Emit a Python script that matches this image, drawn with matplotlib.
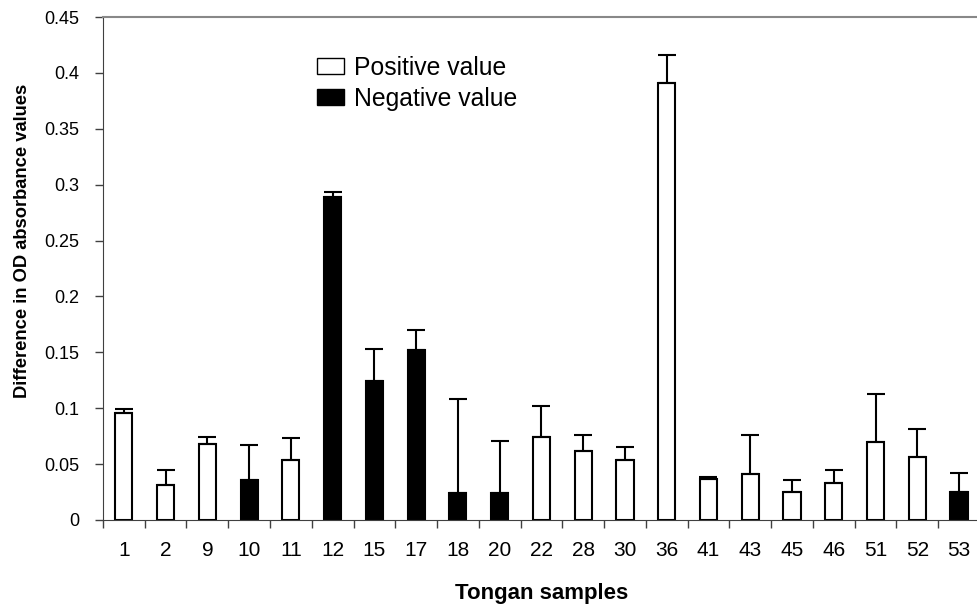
import matplotlib.pyplot as plt
from matplotlib.patches import Patch

plt.rcParams['font.family'] = ['Liberation Sans', 'DejaVu Sans']

samples = ['1', '2', '9', '10', '11', '12', '15', '17', '18', '20', '22',
           '28', '30', '36', '41', '43', '45', '46', '51', '52', '53']
values = [0.096, 0.031, 0.068, 0.036, 0.054, 0.289, 0.124, 0.152, 0.024, 0.024, 0.074,
          0.062, 0.054, 0.391, 0.037, 0.041, 0.025, 0.033, 0.070, 0.056, 0.025]
errors = [0.003, 0.014, 0.006, 0.031, 0.019, 0.004, 0.029, 0.018, 0.084, 0.047, 0.028,
          0.014, 0.011, 0.025, 0.0015, 0.035, 0.0105, 0.012, 0.043, 0.025, 0.017]
# True = negative value (black bar)
negative = [False, False, False, True, False, True, True, True, True, True, False,
            False, False, False, False, False, False, False, False, False, True]

fig = plt.figure(figsize=(9.77, 6.05), dpi=100)
ax = fig.add_axes([0.1054, 0.1405, 0.8976, 0.8314])

x = range(len(samples))
colors = ['black' if n else 'white' for n in negative]
ax.bar(x, values, width=0.41, color=colors, edgecolor='black', linewidth=1.5, zorder=2)
ax.errorbar(x, values, yerr=[[0] * len(errors), errors], fmt='none', ecolor='black',
            elinewidth=1.5, capsize=6.5, capthick=1.5, zorder=3)

ax.set_xlim(-0.5, len(samples) - 0.5)
ax.set_ylim(0, 0.45)
ax.set_yticks([i * 0.05 for i in range(10)])
ax.set_yticklabels(['0', '0.05', '0.1', '0.15', '0.2', '0.25', '0.3', '0.35', '0.4', '0.45'])
ax.set_xticks(list(x))
ax.set_xticklabels(samples)
ax.set_xticks([i - 0.5 for i in range(len(samples) + 1)], minor=True)
ax.tick_params(axis='x', which='major', length=0, pad=15, labelsize=15)
ax.tick_params(axis='x', which='minor', length=6, width=1, color='#404040')
ax.tick_params(axis='y', length=6, width=1, color='#404040', labelsize=13, pad=11)

ax.spines['right'].set_visible(False)
ax.spines['top'].set_color('#888888')
ax.spines['top'].set_linewidth(1.5)
ax.spines['left'].set_color('#404040')
ax.spines['bottom'].set_color('#404040')

ax.set_xlabel('Tongan samples', fontsize=16, fontweight='bold', labelpad=17)
ax.set_ylabel('Difference in OD absorbance values', fontsize=13.2, fontweight='bold')
ax.yaxis.set_label_coords(-0.082, 0.5547)

handles = [Patch(facecolor='white', edgecolor='black', linewidth=1),
           Patch(facecolor='black', edgecolor='black', linewidth=1)]
fig.legend(handles, ['Positive value', 'Negative value'], loc='upper left',
           bbox_to_anchor=(0.324, 0.908), frameon=False, fontsize=17.8,
           handlelength=1.1, handleheight=0.66, handletextpad=0.4, labelspacing=0.28,
           borderpad=0, borderaxespad=0)

fig.savefig('out.png', dpi=100)
